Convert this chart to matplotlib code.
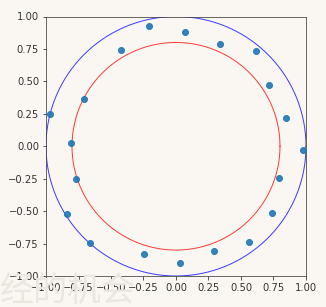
import numpy as np
import matplotlib.pyplot as plt

# scatter points
xs = [-0.967, -0.208, 0.072, 0.341, 0.615, 0.713, 0.846, 0.974, 0.790, 0.736,
      0.562, 0.292, 0.028, -0.244, -0.659, -0.841, -0.772, -0.805, -0.708, -0.423]
ys = [0.252, 0.925, 0.877, 0.789, 0.735, 0.470, 0.221, -0.028, -0.244, -0.514,
      -0.740, -0.810, -0.902, -0.828, -0.746, -0.519, -0.249, 0.026, 0.368, 0.740]

outer_r = 1.0
inner_r = 0.8
ticks = [-1.0, -0.75, -0.5, -0.25, 0.0, 0.25, 0.5, 0.75, 1.0]

bg = '#faf7f2'
fig = plt.figure(figsize=(326 / 72, 307 / 72), dpi=72, facecolor=bg)
ax = fig.add_axes([46 / 326, 1 - 276 / 307, 260 / 326, 259.5 / 307])
ax.set_facecolor(bg)

# faint watermark in the background
fig.text(0.0, 0.02, '经的机会', fontsize=34, color='#ebe6df',
         family=['Noto Sans CJK SC', 'DejaVu Sans'], zorder=0)

t = np.linspace(0, 2 * np.pi, 400)
ax.plot(outer_r * np.cos(t), outer_r * np.sin(t), color='blue', lw=1, alpha=0.75)
ax.plot(inner_r * np.cos(t), inner_r * np.sin(t), color='red', lw=1, alpha=0.75)
ax.scatter(xs, ys, s=36, color='#1f77b4', alpha=0.9, zorder=3)

ax.set_xlim(-1, 1)
ax.set_ylim(-1, 1)
ax.set_xticks(ticks)
ax.set_yticks(ticks)
for s in ax.spines.values():
    s.set_color('#444444')
ax.tick_params(colors='#333333')

fig.savefig('out.png', dpi=72, facecolor=bg)
